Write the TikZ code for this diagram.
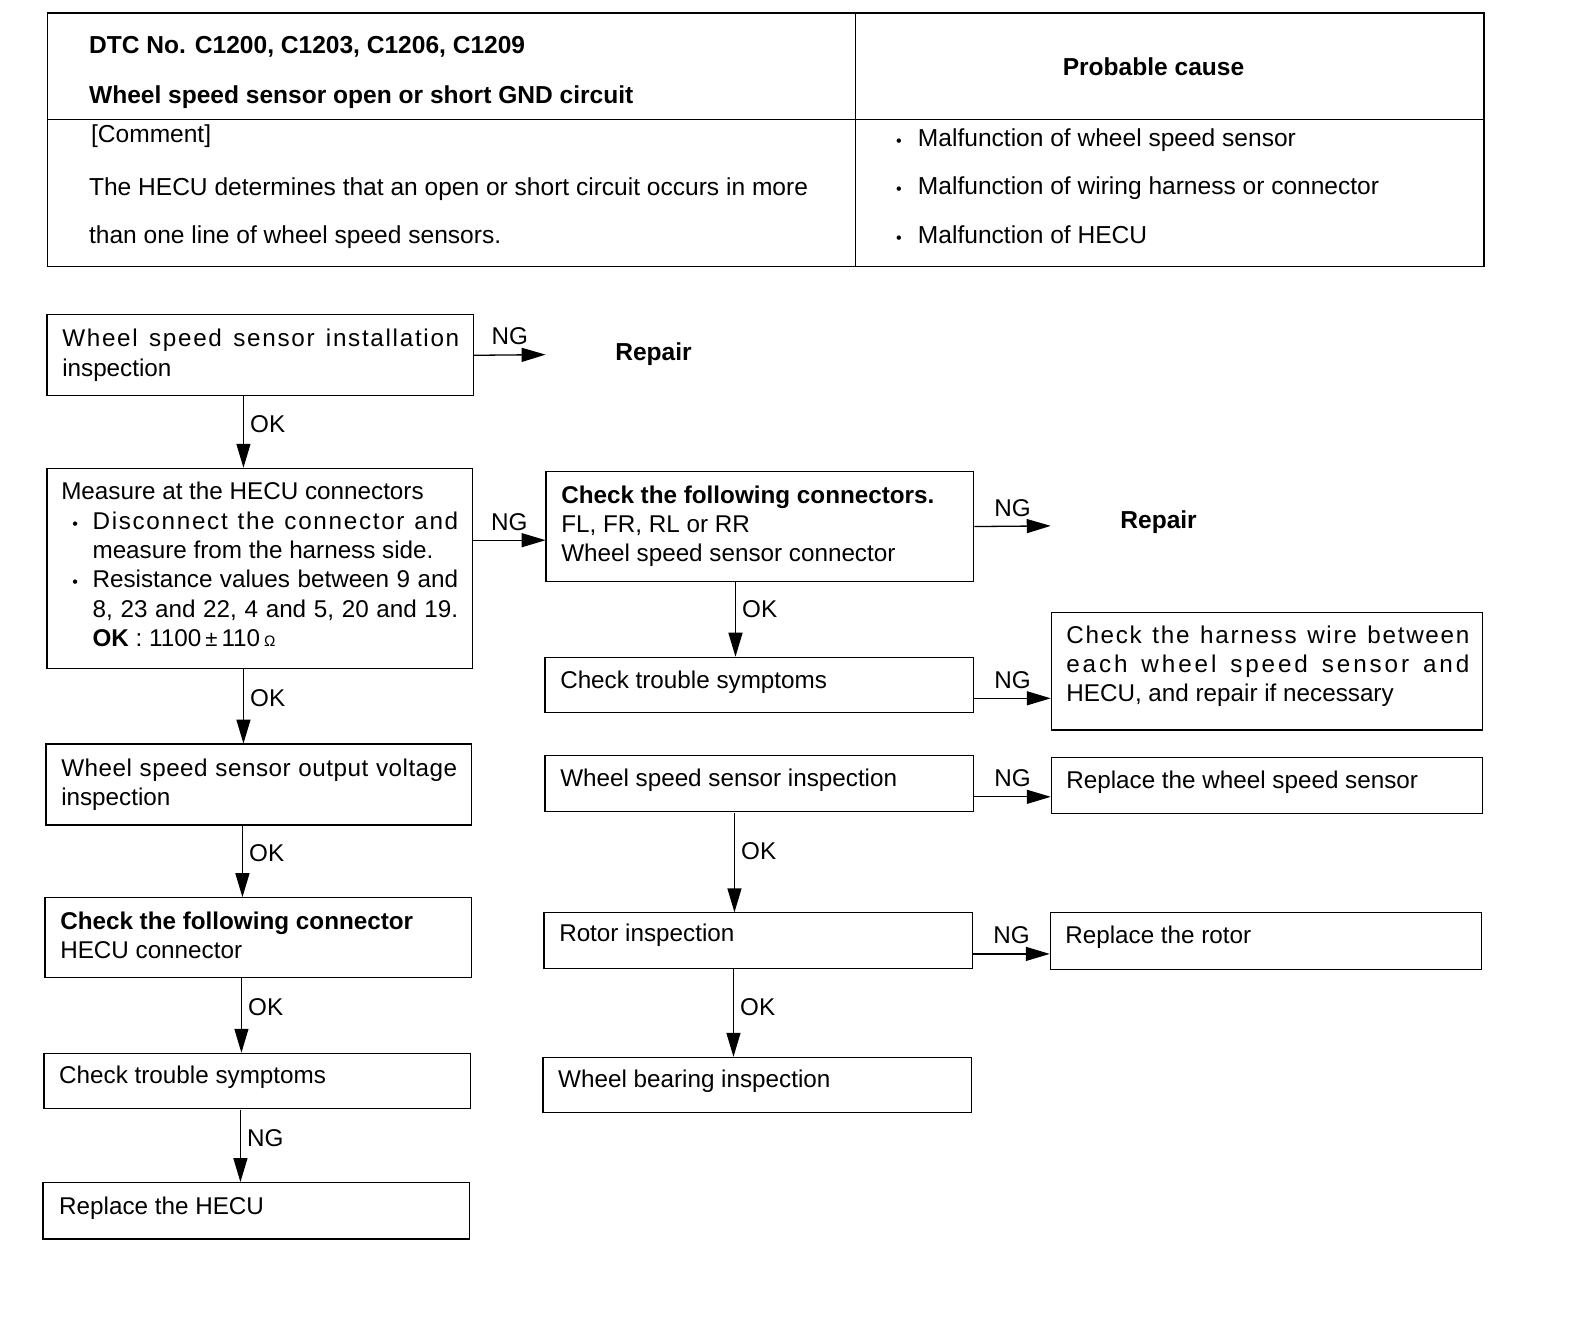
\documentclass[tikz,border=0pt]{standalone}
\usepackage{fontspec}
\setmainfont{Liberation Sans}
\usetikzlibrary{arrows.meta,calc}
\newcommand{\jline}[3][0]{\makebox[#2][s]{\spaceskip=0pt\xspaceskip=0pt\relax\addfontfeature{LetterSpace=#1}#3}}
\newcommand{\smbul}{{\fontsize{16}{16}\selectfont•}}
\newcommand{\dn}[1]{\rule[-#1]{0pt}{#1}}
\begin{document}
\begin{tikzpicture}[x=1pt,y=-1pt,
  txt/.style={font=\fontsize{24.3}{29}\selectfont, inner sep=0pt},
  box/.style={draw, line width=1.3pt, rectangle, anchor=north west, align=left,
    inner ysep=0pt, font=\fontsize{24}{29}\selectfont,
    execute at begin node={\spaceskip=0pt\xspaceskip=0pt\relax}},
  arr/.style={line width=1.3pt, -{Triangle[length=24pt,width=14pt]}},
  lab/.style={font=\fontsize{24}{29}\selectfont, inner sep=0pt},
  tline/.style={line width=1.3pt}
]
\useasboundingbox (0,0) rectangle (1584,1328);
\begin{scope}[scale=1.0101, transform shape]
% ---------- table ----------
\draw[tline] (47,13) rectangle (1469,264);
\draw[tline] (847,13) -- (847,264);
\draw[tline] (47,118) -- (1469,118);
\node[txt, anchor=base west] (t1) at (88,53) {\textbf{DTC No. C1200, C1203, C1206, C1209}};
\node[txt, anchor=base west] (t2) at (88,102) {\textbf{Wheel speed sensor open or short GND circuit}};
\node[txt, anchor=base] (t3) at (1142,75) {\textbf{Probable cause}};
\node[txt, anchor=base west] (t4) at (90,141) {[Comment]};
\node[txt, anchor=base west] (t5) at (88,194) {The HECU determines that an open or short circuit occurs in more};
\node[txt, anchor=base west] (t6) at (88,241) {than one line of wheel speed sensors.};
\node[txt, anchor=base west] (p1) at (887,145) {\smbul\hspace{16pt}Malfunction of wheel speed sensor};
\node[txt, anchor=base west] (p2) at (887,193) {\smbul\hspace{16pt}Malfunction of wiring harness or connector};
\node[txt, anchor=base west] (p3) at (887,241) {\smbul\hspace{16pt}Malfunction of HECU};

% ---------- left column ----------
\node[box, minimum width=422pt, minimum height=80pt, inner xsep=15pt, text width=392pt] (b1) at (46,311)
  {\jline[7]{393pt}{Wheel speed sensor installation}\\inspection};
\node[box, minimum width=421pt, minimum height=198pt, inner xsep=14pt, text width=393pt] (b2) at (46,463)
  {Measure at the HECU connectors\\
   \hspace*{11pt}\makebox[20pt][l]{\smbul}\jline[7]{362pt}{Disconnect the connector and}\\
   \hspace*{31pt}measure from the harness side.\\
   \hspace*{11pt}\makebox[20pt][l]{\smbul}\jline{362pt}{Resistance values between 9 and}\\
   \hspace*{31pt}\jline{362pt}{8, 23 and 22, 4 and 5, 20 and 19.}\\
   \hspace*{31pt}\textbf{OK} : 1100\,{\fontsize{22}{22}\selectfont ±}\,110\,{\fontsize{15}{15}\selectfont Ω}\dn{8pt}};
\node[box, minimum width=421pt, minimum height=80pt, inner xsep=15pt, text width=391pt] (b3) at (45,736)
  {\jline[2]{392pt}{Wheel speed sensor output voltage}\\inspection};
\node[box, minimum width=422pt, minimum height=79pt, inner xsep=15pt, text width=392pt] (b4) at (44,888)
  {\textbf{Check the following connector}\\HECU connector\dn{4pt}};
\node[box, minimum width=422pt, minimum height=55pt, inner xsep=15pt, text width=392pt] (b5) at (43,1042)
  {Check trouble symptoms\dn{13pt}};
\node[box, minimum width=422pt, minimum height=56pt, inner xsep=16pt, text width=390pt] (b6) at (42,1170)
  {Replace the HECU\dn{11pt}};

% ---------- right column ----------
\node[box, minimum width=423pt, minimum height=109pt, inner xsep=15pt, text width=393pt] (c1) at (540,466)
  {\textbf{Check the following connectors.}\\FL, FR, RL or RR\\Wheel speed sensor connector};
\node[box, minimum width=424pt, minimum height=55pt, inner xsep=15pt, text width=394pt] (c2) at (539,650)
  {Check trouble symptoms\dn{11pt}};
\node[box, minimum width=424pt, minimum height=56pt, inner xsep=15pt, text width=394pt] (c3) at (539,747)
  {Wheel speed sensor inspection\dn{11pt}};
\node[box, minimum width=424pt, minimum height=55pt, inner xsep=15pt, text width=394pt] (c4) at (538,903)
  {Rotor inspection\dn{15pt}};
\node[box, minimum width=424pt, minimum height=55pt, inner xsep=15pt, text width=394pt] (c5) at (537,1046)
  {Wheel bearing inspection\dn{13pt}};

\node[box, minimum width=427pt, minimum height=116pt, inner xsep=15pt, text width=397pt] (d1) at (1040,606)
  {\jline[7]{399pt}{Check the harness wire between}\\\jline[12]{399pt}{each wheel speed sensor and}\\HECU, and repair if necessary\dn{15pt}};
\node[box, minimum width=427pt, minimum height=56pt, inner xsep=15pt, text width=397pt] (d2) at (1040,749)
  {Replace the wheel speed sensor\dn{11pt}};
\node[box, minimum width=427pt, minimum height=56pt, inner xsep=15pt, text width=397pt] (d3) at (1039,903)
  {Replace the rotor\dn{13pt}};

% Repair texts
\node[txt] (r1) at (647,351) {\textbf{Repair}};
\node[txt] (r2) at (1147,517) {\textbf{Repair}};
\coordinate (r1end) at (540,351);
\coordinate (r2end) at (1040,520.5);

% ---------- connectors ----------
\draw[arr] (b1.east) -- node[lab, above=9pt] {NG} (r1end);
\draw[arr] (c1.east) -- node[lab, above=9pt] {NG} (r2end);
\draw[arr] ([yshift=28pt]b2.east) -- node[lab, above=9pt] {NG} ([yshift=28pt]b2.east -| c1.west);
\draw[arr] ([yshift=-13pt]c2.east) -- node[lab, above=9pt] {NG} ([yshift=-13pt]c2.east -| d1.west);
\draw[arr] ([yshift=-13pt]c3.east) -- node[lab, above=9pt] {NG} ([yshift=-13pt]c3.east -| d2.west);
\draw[arr] ([yshift=-13pt]c4.east) -- node[lab, above=9pt] {NG} ([yshift=-13pt]c4.east -| d3.west);

\draw[arr] ([xshift=195pt]b1.south west) -- node[lab, right=6pt, pos=0.39] {OK} ([xshift=195pt]b1.south west |- b2.north);
\draw[arr] ([xshift=195pt]b2.south west) -- node[lab, right=6pt, pos=0.39] {OK} ([xshift=195pt]b2.south west |- b3.north);
\draw[arr] ([xshift=195pt]b3.south west) -- node[lab, right=6pt, pos=0.39] {OK} ([xshift=195pt]b3.south west |- b4.north);
\draw[arr] ([xshift=195pt]b4.south west) -- node[lab, right=6pt, pos=0.39] {OK} ([xshift=195pt]b4.south west |- b5.north);
\draw[arr] ([xshift=195pt]b5.south west) -- node[lab, right=6pt, pos=0.39] {NG} ([xshift=195pt]b5.south west |- b6.north);

\draw[arr] ([xshift=188pt]c1.south west) -- node[lab, right=6pt, pos=0.36] {OK} ([xshift=188pt]c1.south west |- c2.north);
\draw[arr] ([xshift=188pt]c3.south west) -- node[lab, right=6pt, pos=0.39] {OK} ([xshift=188pt]c3.south west |- c4.north);
\draw[arr] ([xshift=188pt]c4.south west) -- node[lab, right=6pt, pos=0.43] {OK} ([xshift=188pt]c4.south west |- c5.north);
\end{scope}
\end{tikzpicture}
\end{document}
